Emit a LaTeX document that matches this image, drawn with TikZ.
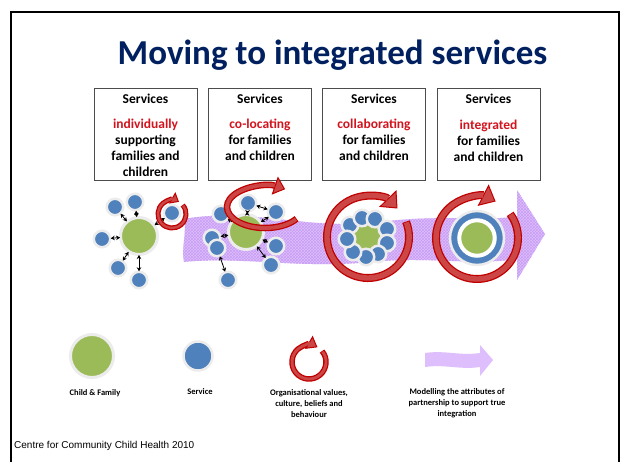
\documentclass[tikz,border=0pt]{standalone}
\usepackage{fontspec}
\setmainfont{Carlito}
\newfontfamily\arialfont{Liberation Sans}
\usepackage{tikz}
\usetikzlibrary{positioning, arrows.meta, patterns}
\definecolor{titlenavy}{RGB}{0,32,96}
\definecolor{famgreen}{RGB}{155,187,89}
\definecolor{servblue}{RGB}{79,129,189}
\definecolor{ringred}{RGB}{192,0,0}
\definecolor{ringpink}{RGB}{205,70,70}
\definecolor{wordred}{RGB}{210,20,30}
\definecolor{lilac}{RGB}{222,190,252}
\definecolor{lilacgrid}{RGB}{200,158,245}
\definecolor{halogray}{RGB}{236,236,236}

% red circular arrow: centre, radius, start, end, width, tip length, tip width
\newcommand{\redloop}[7]{%
  \draw[ringred, line width=#5, -{Triangle[length=#6, width=#7, fill=ringpink, line width=1pt]}]
    (#1) ++(#3:#2) arc (#3:#4:#2);
  \draw[ringpink, line width=#5-2.6pt, shorten >=#6, shorten <=0.8pt]
    (#1) ++(#3:#2) arc (#3:#4:#2);
}

\begin{document}
\begin{tikzpicture}[x=1pt, y=-1pt,
    famnode/.style={circle, fill=famgreen, draw=halogray, line width=3pt, inner sep=0pt, outer sep=0pt, minimum size=#1},
    servnode/.style={circle, fill=servblue, draw=halogray, line width=2.5pt, inner sep=0pt, outer sep=0pt, minimum size=#1},
    servnode/.default=16.5pt,
    link/.style={<->, >={Stealth[length=4pt, width=4.5pt]}, line width=0.8pt, shorten >=0.5pt, shorten <=0.5pt},
    svcbox/.style={draw=black!70, line width=0.8pt, minimum width=103pt, minimum height=92pt, inner sep=0pt},
    boxtext/.style={align=center, font=\fontsize{13.5}{16}\selectfont\bfseries, inner sep=0pt},
    legtext/.style={align=center, font=\fontsize{8.5}{11}\selectfont\bfseries, inner sep=0pt}]

  \useasboundingbox (0,0) rectangle (621,461);
  \fill[white] (0,0) rectangle (621,461);

  % Marco y titulo
  \draw[line width=2pt] (11,12) rectangle (619,475);
  \node[font=\fontsize{35}{40}\selectfont\bfseries, text=titlenavy, anchor=base] (title) at (332.5,64) {Moving to integrated services};

  % Cajas
  \node[svcbox] (b1) at (145.5,134) {};
  \node[svcbox] (b2) at (260,134) {};
  \node[svcbox] (b3) at (374,134) {};
  \node[svcbox] (b4) at (488.5,134) {};
  \node[boxtext, below=6.5pt of b1.north] (t1) {Services\\[9pt] \textcolor{wordred}{individually}\\ supporting\\ families and\\ children};
  \node[boxtext, below=6.5pt of b2.north] (t2) {Services\\[9pt] \textcolor{wordred}{co-locating}\\ for families\\ and children};
  \node[boxtext, below=6.5pt of b3.north] (t3) {Services\\[9pt] \textcolor{wordred}{collaborating}\\ for families\\ and children};
  \node[boxtext, below=6.5pt of b4.north] (t4) {Services\\[10pt] \textcolor{wordred}{integrated}\\ for families\\ and children};

  % Flecha morada
  \path[fill=lilac, postaction={pattern=crosshatch, pattern color=lilacgrid}]
    (184,219) .. controls (250,207) and (310,231) .. (380,222)
    .. controls (440,214) and (490,222) .. (517,216) -- (517,190) -- (545,234) -- (517,280) -- (517,259)
    .. controls (470,266) and (430,256) .. (370,262) .. controls (300,269) and (240,256) .. (184,262)
    .. controls (181,248) and (187,233) .. (184,219) -- cycle;

  % Etapa 1
  \node[famnode=37pt] (f1) at (139,236) {};
  \node[servnode] (s11) at (115,207) {};
  \node[servnode] (s12) at (135,202) {};
  \node[servnode] (s13) at (102,239) {};
  \node[servnode] (s14) at (118,268) {};
  \node[servnode] (s15) at (139,280) {};
  \node[servnode] (s16) at (172,213) {};
  \draw[link] (f1) -- (s11);
  \draw[link] (f1) -- (s12);
  \draw[link] (f1) -- (s13);
  \draw[link] (f1) -- (s14);
  \draw[link] (f1) -- (s15);
  \draw[link] (f1) -- (s16);
  \coordinate (loop1) at (172,214);
  \redloop{loop1}{14}{-40}{300}{5pt}{8pt}{13pt}

  % Etapa 2
  \node[famnode=35pt] (f2) at (246,232) {};
  \node[servnode] (s21) at (248,203) {};
  \node[servnode] (s22) at (276,212) {};
  \node[servnode] (s23) at (221,214) {};
  \node[servnode] (s24) at (212,238) {};
  \node[servnode] (s25) at (217,248) {};
  \node[servnode] (s26) at (276,246) {};
  \node[servnode] (s27) at (271,265) {};
  \node[servnode] (s28) at (228,280) {};
  \draw[link] (f2) -- (s21);
  \draw[link] (s21) -- (s22);
  \draw[link] (f2) -- (s22);
  \draw[->, >={Stealth[length=4pt, width=4.5pt]}, line width=0.8pt] (f2) -- (s23);
  \draw[link] (f2) -- (s24);
  \draw[link] (f2) -- (s26);
  \draw[link] (f2) -- (s27);
  \draw[link] (s25) -- (s28);
  \coordinate (loop2) at (265,207);
  \redloop{loop2}{38 and 21}{34}{302}{6.5pt}{11pt}{19pt}

  % Etapa 3
  \node[famnode=30pt] (f3) at (367,237) {};
  \node[servnode] (s31) at (350,225) {};
  \node[servnode] (s32) at (362,218) {};
  \node[servnode] (s33) at (375,219) {};
  \node[servnode] (s34) at (387,229) {};
  \node[servnode] (s35) at (387,243) {};
  \node[servnode] (s36) at (378,254) {};
  \node[servnode] (s37) at (366,257) {};
  \node[servnode] (s38) at (353,252) {};
  \node[servnode] (s39) at (347,239) {};
  \coordinate (loop3) at (368,237);
  \redloop{loop3}{41}{-22}{316}{8pt}{14pt}{24pt}

  % Etapa 4
  \node[servnode=54pt] (s4) at (477,238) {};
  \node[famnode=35.5pt, draw=white, line width=4pt] (f4) at (477,238) {};
  \coordinate (loop4) at (477,238);
  \redloop{loop4}{41}{-36}{297}{8pt}{14pt}{24pt}

  % Leyenda
  \node[famnode=43pt] (lf) at (92,356) {};
  \node[servnode=29pt] (ls) at (198,356) {};
  \coordinate (lloop) at (309,362);
  \redloop{lloop}{17}{-40}{300}{5.5pt}{10pt}{15pt}
  \fill[lilac] (425,353) .. controls (445,350) and (460,356) .. (480,353) -- (480,345) -- (493,360)
    -- (480,376) -- (480,367) .. controls (460,370) and (445,364) .. (425,367) -- cycle;
  \node[legtext, anchor=north] (lt1) at (95,389) {Child \& Family};
  \node[legtext, anchor=north] (lt2) at (200,388) {Service};
  \node[legtext, anchor=north] (lt3) at (309,389) {Organisational values,\\ culture, beliefs and\\ behaviour};
  \node[legtext, anchor=north] (lt4) at (457,388) {Modelling the attributes of\\ partnership to support true\\ integration};

  % Pie
  \node[font=\arialfont\fontsize{10}{12}\selectfont, anchor=base west, inner sep=0pt] (foot) at (14,448.5) {Centre for Community Child Health 2010};
\end{tikzpicture}
\end{document}
